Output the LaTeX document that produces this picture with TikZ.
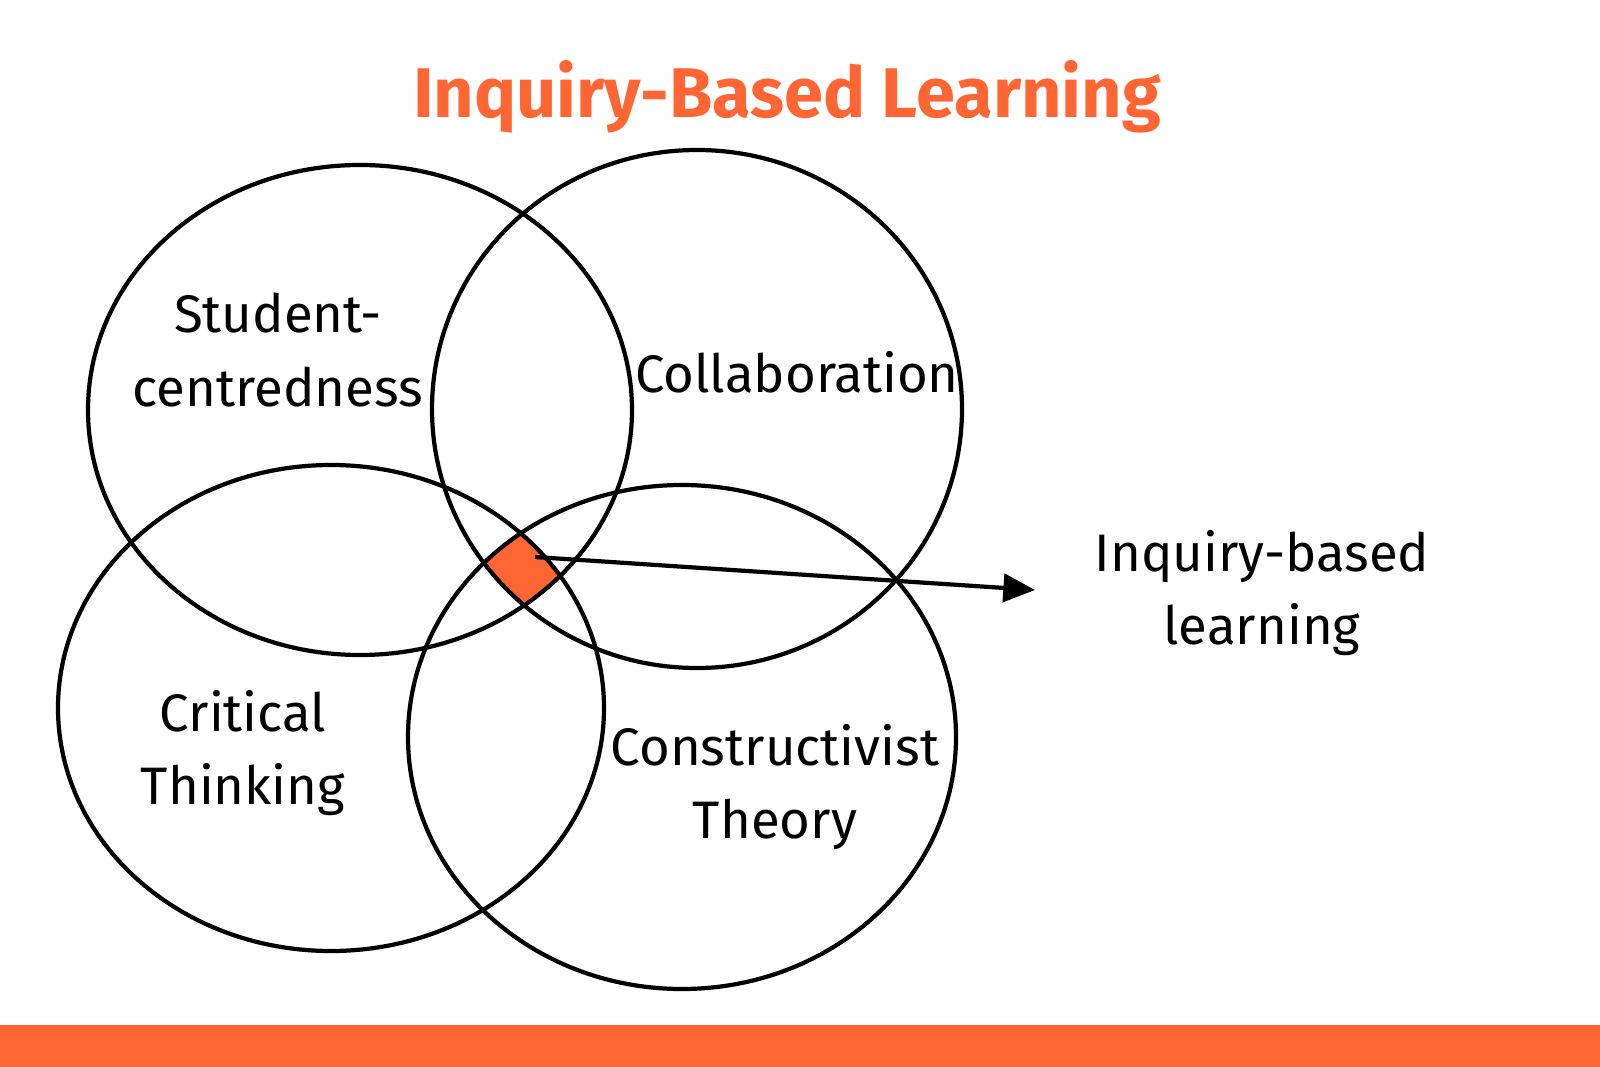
\documentclass[tikz,border=0pt]{standalone}
\usepackage{fontspec}
\setmainfont{Fira Sans}
\usetikzlibrary{arrows.meta}
\definecolor{ibl}{HTML}{FF6633}
\tikzset{
  ring/.style={draw=black, line width=1.2pt},
  topic/.style={font=\fontsize{15}{21}\selectfont, align=center}
}
\begin{document}
\begin{tikzpicture}[x=0.01cm,y=-0.01cm]
    \useasboundingbox (0,0) rectangle (1600,1067);
    \fill[ibl] (0,1025) rectangle (1600,1067);
    % shared region
    \begin{scope}
        \clip (360,410) ellipse (272 and 245);
        \clip (697,409) ellipse (265 and 259);
        \clip (331,708) ellipse (273 and 243);
        \fill[ibl] (682,737) ellipse (274 and 252);
    \end{scope}
    \draw[ring] (360,410) ellipse (272 and 245);
    \draw[ring] (697,409) ellipse (265 and 259);
    \draw[ring] (331,708) ellipse (273 and 243);
    \draw[ring] (682,737) ellipse (274 and 252);
    \node[font=\fontsize{20}{24}\selectfont\bfseries, text=ibl] (title) at (787,97) {Inquiry-Based Learning};
    \node[topic] (student) at (278,350) {Student-\\centredness};
    \node[topic] (collab) at (797,372) {Collaboration};
    \node[topic] (critical) at (243,753) {Critical\\Thinking};
    \node[topic] (construct) at (775,787) {Constructivist\\Theory};
    \node[topic] (ibl) at (1262,593) {Inquiry-based\\learning};
    \coordinate (core) at (535,557);
    \draw[line width=1.2pt, -{Triangle[length=9pt,width=8pt]}] (core) -- (1035,590);
\end{tikzpicture}
\end{document}
